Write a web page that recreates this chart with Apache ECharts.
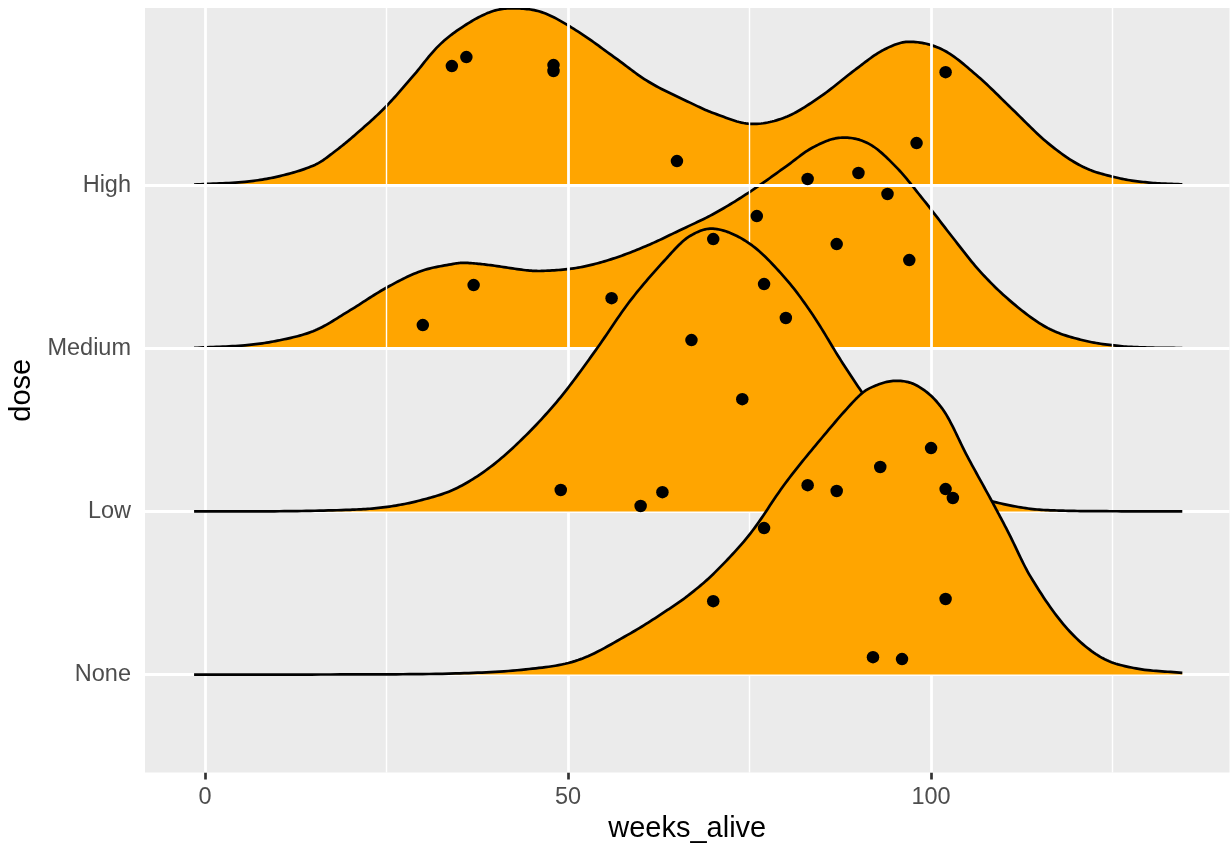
<!DOCTYPE html>
<html><head><meta charset="utf-8">
<script src="https://cdn.jsdelivr.net/npm/echarts@6/dist/echarts.min.js"></script>
<style>html,body{margin:0;padding:0;background:#fff}#chart{width:1230px;height:845px}</style>
</head><body><div id="chart"></div>
<script>
// Categories (bottom to top)
const doses = ['None', 'Low', 'Medium', 'High'];

// Ridge outlines: weeks_alive vs ridge height (in category units)
const highWeeks = [-1.5, 5.5, 10.3, 15.2, 18.0, 21.0, 24.9, 28.7, 32.1, 35.5, 39.4, 42.6, 46.6, 51.4, 56.3, 61.1, 66.8, 70.2, 75.1, 79.9, 84.7, 89.5, 93.4, 97.0, 101.7, 106.5, 111.3, 116.1, 120.9, 125.8, 130.0, 134.6];
const highDens  = [0.003, 0.02, 0.055, 0.125, 0.21, 0.32, 0.48, 0.67, 0.85, 0.97, 1.062, 1.083, 1.056, 0.94, 0.786, 0.633, 0.505, 0.438, 0.375, 0.415, 0.54, 0.705, 0.827, 0.878, 0.827, 0.664, 0.46, 0.257, 0.112, 0.043, 0.015, 0.004];

const medWeeks = [-1.5, 5.5, 10.3, 15.2, 20.0, 24.8, 29.7, 34.5, 36.0, 39.3, 44.2, 46.6, 51.4, 56.2, 61.0, 65.4, 70.2, 75.1, 79.9, 83.7, 87.5, 91.4, 95.2, 99.0, 102.9, 106.8, 111.3, 116.1, 120.9, 125.8, 130.0, 134.6];
const medDens  = [0.002, 0.018, 0.049, 0.11, 0.233, 0.366, 0.472, 0.519, 0.523, 0.509, 0.478, 0.474, 0.494, 0.549, 0.631, 0.723, 0.827, 0.96, 1.11, 1.23, 1.29, 1.254, 1.11, 0.907, 0.683, 0.468, 0.275, 0.123, 0.049, 0.014, 0.004, 0.001];

const lowWeeks = [-1.5, 10.3, 20.0, 24.8, 29.6, 34.5, 39.3, 44.2, 49.0, 53.8, 58.6, 63.5, 66.7, 70.2, 75.1, 79.9, 83.7, 87.6, 90.5, 95.0, 100.0, 104.0, 108.3, 113.7, 118.5, 125.0, 134.6];
const lowDens  = [0, 0.001, 0.01, 0.026, 0.067, 0.139, 0.272, 0.466, 0.701, 0.987, 1.293, 1.548, 1.685, 1.732, 1.638, 1.43, 1.205, 0.924, 0.729, 0.44, 0.24, 0.13, 0.063, 0.016, 0.004, 0.001, 0];

const noneWeeks = [-1.5, 20.0, 34.5, 44.2, 51.4, 58.6, 63.5, 66.7, 70.2, 75.1, 79.9, 84.7, 89.5, 91.5, 95.0, 98.3, 101.7, 105.0, 108.4, 110.6, 113.7, 118.5, 123.3, 128.2, 134.6];
const noneDens  = [0, 0.001, 0.007, 0.032, 0.089, 0.253, 0.39, 0.49, 0.625, 0.864, 1.171, 1.437, 1.682, 1.754, 1.80, 1.765, 1.62, 1.337, 1.06, 0.875, 0.60, 0.294, 0.109, 0.038, 0.011];

// Jittered points: weeks_alive and jittered vertical position
const pointWeeks = [34, 36, 48, 48, 102, 65, 98, 83, 90, 94, 76, 70, 87, 97, 37, 56, 77, 30, 80, 67, 74, 100, 93, 83, 87, 102, 103, 49, 63, 60, 77, 70, 102, 92, 96];
const pointY = [4.729, 4.784, 4.735, 4.699, 4.692, 4.147, 4.257, 4.037, 4.074, 3.945, 3.810, 3.669, 3.638, 3.540, 3.387, 3.307, 3.393, 3.142, 3.185, 3.050, 2.688, 2.388, 2.272, 2.161, 2.125, 2.137, 2.082, 2.131, 2.118, 2.033, 1.898, 1.450, 1.463, 1.107, 1.095];

// Tick values
const xMajor = [0, 50, 100];
const xMinor = [25, 75, 125];
const yTicks = [1, 2, 3, 4];

const ridges = [
  { name: 'High', base: 4, weeks: highWeeks, dens: highDens },
  { name: 'Medium', base: 3, weeks: medWeeks, dens: medDens },
  { name: 'Low', base: 2, weeks: lowWeeks, dens: lowDens },
  { name: 'None', base: 1, weeks: noneWeeks, dens: noneDens }
];

const FONT = 'Liberation Sans, Arial, Helvetica, sans-serif';
const chart = echarts.init(document.getElementById('chart'), null, { renderer: 'canvas' });

// Smooth rendering of a ridge outline (cubic Hermite through the read points), mapped with api.coord
function ridgeRenderer(r) {
  return function (params, api) {
    if (params.dataIndex !== 0) return;
    const xs = r.weeks, ys = r.dens, n = xs.length;
    const m = [];
    for (let i = 0; i < n; i++) {
      if (i === 0) m.push((ys[1] - ys[0]) / (xs[1] - xs[0]));
      else if (i === n - 1) m.push((ys[n - 1] - ys[n - 2]) / (xs[n - 1] - xs[n - 2]));
      else m.push((ys[i + 1] - ys[i - 1]) / (xs[i + 1] - xs[i - 1]));
    }
    const line = [];
    const STEPS = 16;
    for (let i = 0; i < n - 1; i++) {
      const h = xs[i + 1] - xs[i];
      for (let s = 0; s < STEPS; s++) {
        const t = s / STEPS, t2 = t * t, t3 = t2 * t;
        const v = (2 * t3 - 3 * t2 + 1) * ys[i] + (t3 - 2 * t2 + t) * h * m[i] +
                  (-2 * t3 + 3 * t2) * ys[i + 1] + (t3 - t2) * h * m[i + 1];
        line.push(api.coord([xs[i] + t * h, r.base + Math.max(0, v)]));
      }
    }
    line.push(api.coord([xs[n - 1], r.base + ys[n - 1]]));
    const fill = [api.coord([xs[0], r.base])].concat(line, [api.coord([xs[n - 1], r.base])]);
    return {
      type: 'group',
      children: [
        { type: 'polygon', shape: { points: fill }, style: { fill: '#FFA500', stroke: null } },
        { type: 'polyline', shape: { points: line }, style: { fill: null, stroke: '#000000', lineWidth: 2.7, lineJoin: 'round' } }
      ]
    };
  };
}

const series = [];
series.push({
  type: 'line', data: [], silent: true, z: 1,
  markLine: {
    silent: true, symbol: ['none', 'none'], animation: false,
    label: { show: false }, emphasis: { disabled: true },
    data: [
      ...xMinor.map(v => ({ xAxis: v, lineStyle: { color: '#FFFFFF', width: 1.4, type: 'solid' } })),
      ...xMajor.map(v => ({ xAxis: v, lineStyle: { color: '#FFFFFF', width: 2.8, type: 'solid' } })),
      ...yTicks.map(v => ({ yAxis: v, lineStyle: { color: '#FFFFFF', width: 2.8, type: 'solid' } }))
    ]
  }
});

ridges.forEach((r, i) => {
  series.push({
    type: 'custom', name: r.name, z: 3 + i, silent: true, clip: true,
    data: r.weeks.map((w, j) => [w, r.base + r.dens[j]]),
    encode: { x: 0, y: 1 },
    renderItem: ridgeRenderer(r)
  });
});

series.push({
  type: 'scatter', z: 20, silent: true,
  data: pointWeeks.map((w, i) => [w, pointY[i]]),
  symbolSize: 12.5,
  itemStyle: { color: '#000000', opacity: 1 }
});

chart.setOption({
  animation: false,
  backgroundColor: '#FFFFFF',
  grid: {
    left: 145, right: 0.5, top: 8, bottom: 72.5,
    show: true, backgroundColor: '#EBEBEB', borderWidth: 0,
    containLabel: false, outerBoundsMode: 'none'
  },
  xAxis: {
    type: 'value', min: -8.26, max: 141.1,
    name: 'weeks_alive', nameLocation: 'middle', nameGap: 41,
    nameTextStyle: { color: '#000000', fontSize: 29, fontFamily: FONT },
    axisLine: { show: false },
    axisTick: { show: true, customValues: xMajor, length: 7, lineStyle: { color: '#333333', width: 2.7 } },
    axisLabel: { customValues: xMajor, color: '#4D4D4D', fontSize: 23.5, margin: 13, fontFamily: FONT },
    splitLine: { show: false }
  },
  yAxis: {
    type: 'value', min: 0.4, max: 5.085,
    name: 'dose', nameLocation: 'middle', nameRotate: 90, nameGap: 99,
    nameTextStyle: { color: '#000000', fontSize: 29, fontFamily: FONT },
    axisLine: { show: false },
    axisTick: { show: true, customValues: yTicks, length: 7, lineStyle: { color: '#333333', width: 2.7 } },
    axisLabel: {
      customValues: yTicks, color: '#4D4D4D', fontSize: 23.5, margin: 14, fontFamily: FONT,
      formatter: v => doses[Math.round(v) - 1]
    },
    splitLine: { show: false }
  },
  series: series
});
</script>
</body></html>
